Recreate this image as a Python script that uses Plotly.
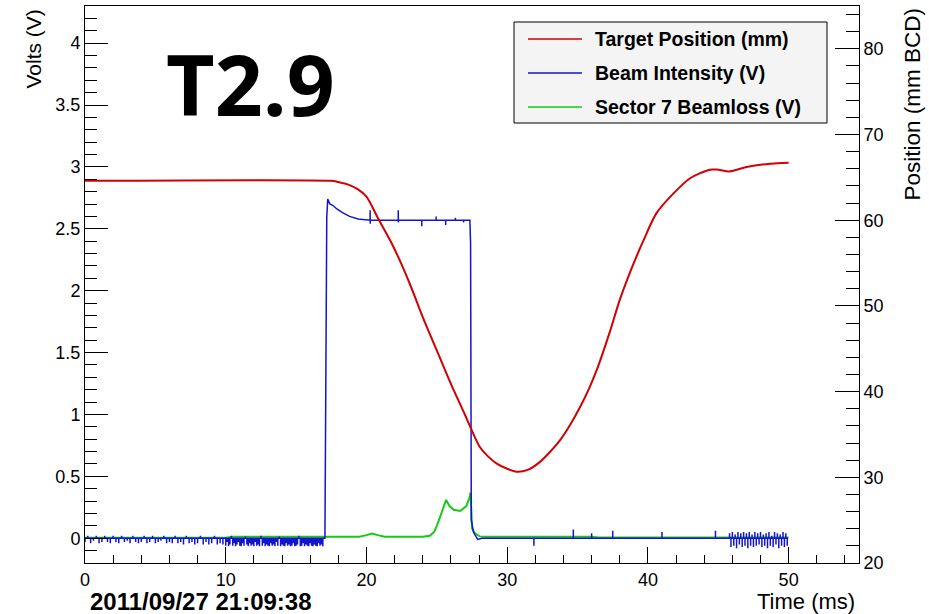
import numpy as np
import plotly.graph_objects as go

# ---------------- data ----------------
# Target position (mm, right axis)
t_red = [0, 17.5, 17.9, 18.4, 18.8, 19.4, 20.0, 20.8, 21.7, 22.4, 23.1, 24.0, 25.0, 26.0,
         27.0, 27.4, 28.07, 28.6, 29.26, 30.0, 30.68, 31.5, 32.33, 33.0, 33.76, 34.5, 35.18,
         35.8, 36.36, 37.3, 38.0, 38.7, 39.7, 40.6, 41.8, 43.0, 44.4, 45.0, 45.8, 47.0, 48.7, 50.0]
pos_red = [64.6, 64.6, 64.5, 64.3, 64.1, 63.6, 62.75, 60.3, 57.6, 55.2, 52.5, 48.7, 44.8, 40.9,
           37.3, 35.8, 33.5, 32.5, 31.6, 31.0, 30.65, 30.9, 31.8, 32.9, 34.35, 36.2, 38.2,
           40.3, 42.5, 47.0, 50.7, 53.8, 57.7, 60.8, 63.1, 64.9, 65.9, 65.9, 65.7, 66.2, 66.6, 66.7]

# Beam intensity (V): noisy baseline before the spill
# 0-10 ms: spike values every 0.2 ms
blue_spikes_0_10 = [-0.03, 0.02, -0.04, -0.02, 0.02, -0.04, -0.03, 0.02, -0.03, -0.04,
                    0.02, -0.03, -0.04, 0.02, -0.03, -0.02, -0.04, 0.02, -0.03, -0.04,
                    -0.03, 0.02, -0.04, -0.03, 0.02, -0.04, -0.03, -0.02, 0.02, -0.04,
                    -0.03, -0.04, 0.02, -0.04, -0.03, -0.05, 0.02, -0.04, -0.03, -0.05,
                    -0.04, 0.02, -0.05, -0.03, -0.05, -0.04, 0.02, -0.05, -0.04, -0.05]
# 10-17 ms: spike values every 0.1 ms
blue_spikes_10_17 = [-0.06, -0.03, -0.065, -0.05, 0.02, -0.06, -0.04, -0.065, -0.05, -0.03,
                     -0.06, -0.065, -0.04, -0.06, 0.015, -0.05, -0.065, -0.04, -0.06, -0.05,
                     -0.065, -0.03, -0.06, -0.05, -0.065, 0.02, -0.06, -0.04, -0.065, -0.05,
                     -0.06, -0.065, -0.04, -0.06, -0.05, -0.065, -0.03, -0.06, 0.015, -0.065,
                     -0.05, -0.06, -0.065, -0.04, -0.06, -0.05, -0.065, -0.06, -0.04, -0.065,
                     -0.06, -0.05, 0.02, -0.065, -0.06, -0.04, -0.065, -0.05, -0.06, -0.065,
                     -0.04, -0.06, -0.065, -0.05, -0.06, -0.065, -0.04, -0.06, -0.05, -0.065]
# spill: rising edge, plateau decay and falling edge
t_blue_spill = [17.05, 17.12, 17.18, 17.25, 17.4, 17.6, 17.9, 18.3, 18.8, 19.4, 20.0, 27.35,
                27.4, 27.45, 27.6, 27.9, 28.2]
v_blue_spill = [0.0, 1.2, 2.6, 2.74, 2.70, 2.69, 2.66, 2.63, 2.60, 2.58, 2.57, 2.57,
                2.38, 0.15, 0.05, -0.01, 0.0]
plateau_level = 2.57
# spikes on the plateau (times and values)
t_blue_plateau_spk = [20.26, 20.27, 22.26, 22.27, 23.93, 24.95, 25.63, 26.32, 26.9]
v_blue_plateau_spk = [2.65, 2.54, 2.65, 2.55, 2.52, 2.60, 2.53, 2.59, 2.55]
# isolated spikes after the spill (times and values)
t_blue_late = [31.9, 34.7, 36.0, 37.5, 41.0, 44.8]
v_blue_late = [-0.06, 0.07, 0.04, 0.06, 0.05, 0.06]
# noisy tail (spike values every 0.1 ms from t=45.8)
blue_tail_spikes = [0.04, -0.07, 0.05, -0.06, 0.03, -0.08, 0.05, -0.05, 0.04, -0.07, 0.05,
                    -0.06, 0.04, -0.08, 0.05, -0.06, 0.03, -0.07, 0.05, -0.06, 0.04,
                    -0.05, 0.05, -0.07, 0.03, -0.06, 0.04, -0.08, 0.05, -0.06, 0.02,
                    -0.07, 0.05, -0.05, 0.04, -0.08, 0.03, -0.06, 0.05, -0.07, 0.04, -0.06]

# Sector 7 beamloss (V)
t_green = [0, 10.0, 10.5, 17.1, 19.5, 20.0, 20.4, 20.8, 21.3, 24.0, 24.5, 24.8, 25.0, 25.35, 25.66,
           25.9, 26.2, 26.66, 27.1, 27.3, 27.4, 27.5, 27.7, 28.05, 28.5, 36.0, 36.5, 50.0]
v_green = [0.004, 0.004, 0.013, 0.012, 0.012, 0.025, 0.038, 0.025, 0.012, 0.012, 0.02, 0.05, 0.10,
           0.21, 0.31, 0.26, 0.23, 0.22, 0.26, 0.32, 0.37, 0.08, 0.04, 0.015, 0.012, 0.012,
           0.007, 0.007]

legend_names = ["Target Position (mm)", "Beam Intensity (V)", "Sector 7 Beamloss (V)"]
RED, BLUE, GREEN = "#d20000", "#1414cc", "#14cc14"

# -------------- assemble blue trace --------------
def spikes_at(times, values, base):
    xs, ys = [], []
    for t, v in zip(times, values):
        xs += [t, t, t]
        ys += [base, v, base]
    return xs, ys

def spike_train(t0, spikes, step):
    return spikes_at([t0 + i * step for i in range(len(spikes))], spikes, 0.0)

xe1, ye1 = spike_train(0.0, blue_spikes_0_10, 0.2)
xe2, ye2 = spike_train(10.0, blue_spikes_10_17, 0.1)
i_plat = t_blue_spill.index(20.0)
xs1, ys1 = t_blue_spill[:i_plat + 1], v_blue_spill[:i_plat + 1]
xp, yp = spikes_at(t_blue_plateau_spk, v_blue_plateau_spk, plateau_level)
xs2, ys2 = t_blue_spill[i_plat + 1:], v_blue_spill[i_plat + 1:]
xl, yl = spikes_at(t_blue_late, v_blue_late, 0.0)
xt, yt = spike_train(45.8, blue_tail_spikes, 0.1)
t_blue = xe1 + xe2 + xs1 + xp + xs2 + xl + xt
v_blue = ye1 + ye2 + ys1 + yp + ys2 + yl + yt

# -------------- figure --------------
L, R, T, B = 85, 70, 6, 51
W, H = 929, 614
pw, ph = W - L - R, H - T - B
def px(x):
    return (x - L) / pw
def py(y):
    return 1 - (y - T) / ph

fig = go.Figure()
fig.add_trace(go.Scatter(x=t_red, y=pos_red, yaxis="y2", mode="lines",
                         line=dict(color=RED, width=2, shape="spline", smoothing=0.8),
                         name=legend_names[0], showlegend=False))
fig.add_trace(go.Scatter(x=t_green, y=v_green, mode="lines",
                         line=dict(color=GREEN, width=2), name=legend_names[2], showlegend=False))
fig.add_trace(go.Scatter(x=t_blue, y=v_blue, mode="lines",
                         line=dict(color=BLUE, width=1.5), name=legend_names[1], showlegend=False))

tickfont = dict(family="Liberation Sans, Arial", size=18, color="black")
fig.update_layout(
    width=W, height=H, margin=dict(l=L, r=R, t=T, b=B),
    paper_bgcolor="white", plot_bgcolor="white",
    xaxis=dict(range=[0, 55], tick0=0, dtick=10, ticks="inside", ticklen=16, tickwidth=1,
               tickcolor="black", showline=True, linecolor="black", linewidth=1, mirror=True,
               showgrid=False, zeroline=False, tickfont=tickfont,
               minor=dict(dtick=2, ticks="inside", ticklen=8, tickcolor="black", showgrid=False)),
    yaxis=dict(range=[-0.2, 4.3], tick0=0, dtick=0.5, ticks="inside", ticklen=23, tickwidth=1,
               tickcolor="black", showline=True, linecolor="black", linewidth=1,
               showgrid=False, zeroline=False, tickfont=tickfont,
               minor=dict(dtick=0.1, ticks="inside", ticklen=12, tickcolor="black", showgrid=False)),
    yaxis2=dict(range=[20, 85], tick0=20, dtick=10, ticks="inside", ticklen=24, tickwidth=1,
                tickcolor="black", showline=True, linecolor="black", linewidth=1,
                overlaying="y", side="right", showgrid=False, zeroline=False, tickfont=tickfont,
                minor=dict(dtick=2, ticks="inside", ticklen=13, tickcolor="black", showgrid=False)),
)

ann = []
ann.append(dict(text="Volts (V)", x=px(33), y=py(8), xref="paper", yref="paper",
                textangle=-90, xanchor="center", yanchor="top", showarrow=False,
                font=dict(family="Liberation Sans, Arial", size=21, color="black")))
ann.append(dict(text="Position (mm BCD)", x=px(912), y=py(6), xref="paper", yref="paper",
                textangle=-90, xanchor="center", yanchor="top", showarrow=False,
                font=dict(family="Liberation Sans, Arial", size=22.5, color="black")))
ann.append(dict(text="Time (ms)", x=px(857), y=py(601), xref="paper", yref="paper",
                xanchor="right", yanchor="middle", showarrow=False,
                font=dict(family="Liberation Sans, Arial", size=22, color="black")))
ann.append(dict(text="<b>2011/09/27 21:09:38</b>", x=px(88), y=py(601), xref="paper", yref="paper",
                xanchor="left", yanchor="middle", showarrow=False,
                font=dict(family="Liberation Sans, Arial", size=24, color="black")))
ann.append(dict(text="<b>T2.9</b>", x=px(250), y=py(83), xref="paper", yref="paper",
                xanchor="center", yanchor="middle", showarrow=False,
                font=dict(family="Open Sans", size=84, color="black")))

# legend box
shapes = [dict(type="rect", xref="paper", yref="paper", x0=px(514), x1=px(827), y0=py(123), y1=py(22),
               line=dict(color="black", width=1), fillcolor="#f4f4f4", layer="above")]
rows = [39, 73, 107]
for name, col, yy in zip(legend_names, [RED, BLUE, GREEN], rows):
    shapes.append(dict(type="line", xref="paper", yref="paper", x0=px(528), x1=px(582),
                       y0=py(yy), y1=py(yy), line=dict(color=col, width=1.5), layer="above"))
    ann.append(dict(text="<b>" + name + "</b>", x=px(593), y=py(yy), xref="paper", yref="paper",
                    xanchor="left", yanchor="middle", showarrow=False,
                    font=dict(family="Liberation Sans, Arial", size=19.5, color="black")))

fig.update_layout(annotations=ann, shapes=shapes)
fig.write_html("out.html")
